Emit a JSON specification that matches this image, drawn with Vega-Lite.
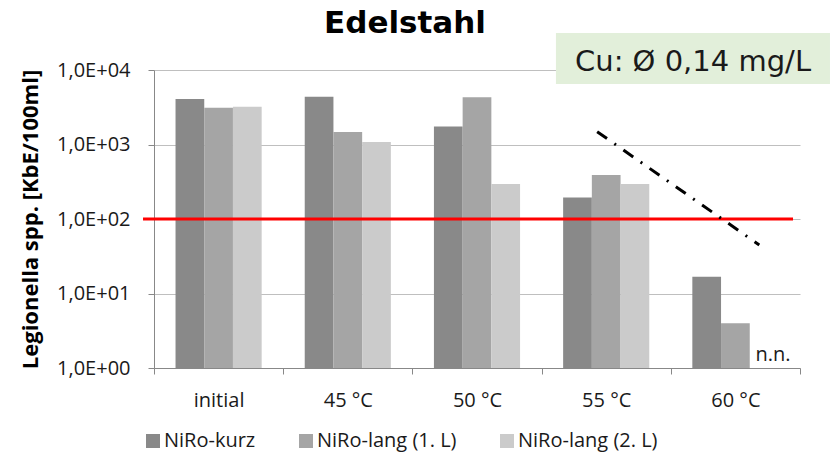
{
  "$schema": "https://vega.github.io/schema/vega-lite/v6.json",
  "width": 646,
  "height": 298,
  "autosize": {"type": "none"},
  "padding": {"left": 154, "top": 70, "right": 34, "bottom": 96},
  "background": "white",
  "title": {"text": "Edelstahl", "font": "DejaVu Sans", "fontSize": 31, "fontWeight": "bold", "color": "black", "anchor": "middle", "frame": "group", "dx": -72, "baseline": "alphabetic", "offset": -31},
  "config": {"view": {"stroke": null}, "font": "Open Sans"},
  "layer": [
    {
      "data": {"values": [
        {"Temperatur": "initial", "Serie": "NiRo-kurz", "KbE": 4080},
        {"Temperatur": "initial", "Serie": "NiRo-lang (1. L)", "KbE": 3120},
        {"Temperatur": "initial", "Serie": "NiRo-lang (2. L)", "KbE": 3220},
        {"Temperatur": "45 °C", "Serie": "NiRo-kurz", "KbE": 4390},
        {"Temperatur": "45 °C", "Serie": "NiRo-lang (1. L)", "KbE": 1470},
        {"Temperatur": "45 °C", "Serie": "NiRo-lang (2. L)", "KbE": 1080},
        {"Temperatur": "50 °C", "Serie": "NiRo-kurz", "KbE": 1750},
        {"Temperatur": "50 °C", "Serie": "NiRo-lang (1. L)", "KbE": 4300},
        {"Temperatur": "50 °C", "Serie": "NiRo-lang (2. L)", "KbE": 295},
        {"Temperatur": "55 °C", "Serie": "NiRo-kurz", "KbE": 195},
        {"Temperatur": "55 °C", "Serie": "NiRo-lang (1. L)", "KbE": 390},
        {"Temperatur": "55 °C", "Serie": "NiRo-lang (2. L)", "KbE": 295},
        {"Temperatur": "60 °C", "Serie": "NiRo-kurz", "KbE": 16.8},
        {"Temperatur": "60 °C", "Serie": "NiRo-lang (1. L)", "KbE": 4.0}
      ]},
      "mark": {"type": "bar"},
      "encoding": {
        "x": {
          "field": "Temperatur", "type": "nominal",
          "sort": ["initial", "45 °C", "50 °C", "55 °C", "60 °C"],
          "scale": {"paddingInner": 0, "paddingOuter": 0},
          "axis": {"title": null, "tickBand": "extent", "labelAngle": 0, "domainColor": "#888888", "tickColor": "#888888", "tickSize": 6, "labelFont": "Open Sans", "labelFontSize": 20, "labelColor": "#1a1a1a", "labelPadding": 16, "grid": false}
        },
        "xOffset": {"field": "Serie", "type": "nominal", "sort": ["NiRo-kurz", "NiRo-lang (1. L)", "NiRo-lang (2. L)"], "scale": {"paddingInner": 0, "paddingOuter": 0.75}},
        "y": {
          "field": "KbE", "type": "quantitative", "stack": null,
          "scale": {"type": "log", "domain": [1, 10000], "nice": false},
          "axis": {"title": "Legionella spp. [KbE/100ml]", "values": [1, 10, 100, 1000, 10000], "labelExpr": "'1,0E+0' + round(log(datum.value)/LN10)", "grid": true, "gridColor": "#bfbfbf", "gridWidth": 1, "domainColor": "#888888", "tickColor": "#888888", "tickSize": 6, "labelFont": "Open Sans", "labelFontSize": 20, "labelColor": "#1a1a1a", "labelPadding": 18, "titleFont": "Open Sans", "titleFontSize": 22, "titleFontWeight": "bold", "titleColor": "black", "titlePadding": 14}
        },
        "y2": {"datum": 1},
        "color": {
          "field": "Serie", "type": "nominal",
          "scale": {"domain": ["NiRo-kurz", "NiRo-lang (1. L)", "NiRo-lang (2. L)"], "range": ["#898989", "#a5a5a5", "#cbcbcb"]},
          "legend": {"title": null, "orient": "none", "legendX": -11, "legendY": 361, "direction": "horizontal", "symbolType": "square", "symbolSize": 196, "symbolStrokeWidth": 0, "labelFont": "Open Sans", "labelFontSize": 20, "labelColor": "#1a1a1a", "labelOffset": 1, "columnPadding": 40, "padding": 0, "labelLimit": 300}
        }
      }
    },
    {
      "data": {"values": [{"pos": -0.085, "pos2": 4.946, "KbE": 100}]},
      "mark": {"type": "rule", "color": "#ff0000", "strokeWidth": 3},
      "encoding": {
        "x": {"field": "pos", "type": "quantitative", "scale": {"domain": [0, 5], "nice": false, "zero": false}, "axis": null},
        "x2": {"field": "pos2"},
        "y": {"field": "KbE", "type": "quantitative", "scale": {"type": "log", "domain": [1, 10000], "nice": false}}
      }
    },
    {
      "data": {"values": [{"pos": 3.43, "KbE": 1485}, {"pos": 4.685, "KbE": 44.8}]},
      "mark": {"type": "line", "color": "black", "strokeWidth": 3, "strokeDash": [12, 9, 2, 9], "strokeCap": "butt"},
      "encoding": {
        "x": {"field": "pos", "type": "quantitative", "scale": {"domain": [0, 5], "nice": false, "zero": false}, "axis": null},
        "y": {"field": "KbE", "type": "quantitative", "scale": {"type": "log", "domain": [1, 10000], "nice": false}}
      }
    },
    {
      "data": {"values": [{"pos": 3.111, "pos2": 5.232, "KbE": 6490, "KbE2": 31400}]},
      "mark": {"type": "rect", "color": "#e2efda"},
      "encoding": {
        "x": {"field": "pos", "type": "quantitative", "scale": {"domain": [0, 5], "nice": false, "zero": false}, "axis": null},
        "x2": {"field": "pos2"},
        "y": {"field": "KbE", "type": "quantitative", "scale": {"type": "log", "domain": [1, 10000], "nice": false}},
        "y2": {"field": "KbE2"}
      }
    },
    {
      "data": {"values": [{"pos": 4.172, "KbE": 12800, "label": "Cu: Ø 0,14 mg/L"}]},
      "mark": {"type": "text", "font": "DejaVu Sans", "fontSize": 29, "color": "#1a1a1a", "align": "center", "baseline": "middle"},
      "encoding": {
        "x": {"field": "pos", "type": "quantitative", "scale": {"domain": [0, 5], "nice": false, "zero": false}, "axis": null},
        "y": {"field": "KbE", "type": "quantitative", "scale": {"type": "log", "domain": [1, 10000], "nice": false}},
        "text": {"field": "label"}
      }
    },
    {
      "data": {"values": [{"pos": 4.791, "KbE": 1.24, "label": "n.n."}]},
      "mark": {"type": "text", "font": "Open Sans", "fontSize": 20, "color": "#1a1a1a", "align": "center", "baseline": "alphabetic"},
      "encoding": {
        "x": {"field": "pos", "type": "quantitative", "scale": {"domain": [0, 5], "nice": false, "zero": false}, "axis": null},
        "y": {"field": "KbE", "type": "quantitative", "scale": {"type": "log", "domain": [1, 10000], "nice": false}},
        "text": {"field": "label"}
      }
    }
  ],
  "resolve": {"scale": {"x": "independent", "xOffset": "independent"}}
}
